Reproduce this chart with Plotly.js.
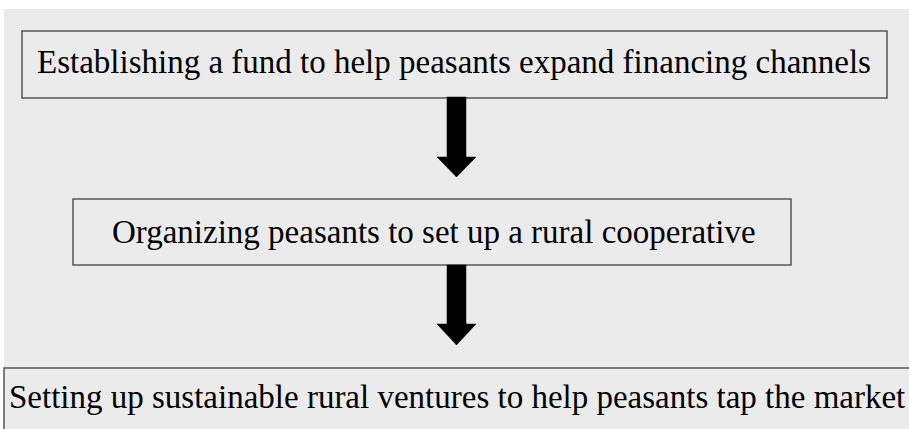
<!DOCTYPE html>
<html>
<head>
<meta charset="utf-8">
<script src="https://cdn.plot.ly/plotly-3.0.1.min.js"></script>
<style>html,body{margin:0;padding:0;background:#fff;}#chart{width:909px;height:429px;}</style>
</head>
<body>
<div id="chart"></div>
<script>
// Flow steps (content)
const steps = [
  "Establishing a fund to help peasants expand financing channels",
  "Organizing peasants to set up a rural cooperative",
  "Setting up sustainable rural ventures to help peasants tap the market"
];

// Layout geometry (pixel space of the figure)
const boxLeft   = [22, 73, 4];
const boxRight  = [887, 791, 930];
const boxTop    = [31, 199, 368];
const boxBottom = [98, 265, 460];
const textX     = [454, 434, 457];
const textY     = [62, 232, 397];

const shapes = [];
// gray background
shapes.push({type:'rect', xref:'x', yref:'y', x0:4, x1:909, y0:9, y1:429,
  fillcolor:'#ebebeb', line:{width:0}, layer:'below'});
// boxes
for (let i = 0; i < steps.length; i++) {
  shapes.push({type:'rect', xref:'x', yref:'y', x0:boxLeft[i], x1:boxRight[i],
    y0:boxTop[i], y1:boxBottom[i], line:{color:'#555555', width:1.5}, fillcolor:'rgba(0,0,0,0)'});
}
// arrows between boxes
function arrow(cx, y0, yHead, yTip) {
  const sw = 9.5, hw = 19.5;
  return 'M'+(cx-sw)+','+y0+' L'+(cx+sw)+','+y0+' L'+(cx+sw)+','+yHead+' L'+(cx+hw)+','+yHead+
         ' L'+cx+','+yTip+' L'+(cx-hw)+','+yHead+' L'+(cx-sw)+','+yHead+' Z';
}
shapes.push({type:'path', xref:'x', yref:'y', path:arrow(456.5, 97, 157, 177), fillcolor:'#000', line:{color:'#000', width:0.5}});
shapes.push({type:'path', xref:'x', yref:'y', path:arrow(456.5, 265, 324, 345), fillcolor:'#000', line:{color:'#000', width:0.5}});

const annotations = steps.map((s, i) => ({
  x: textX[i], y: textY[i], xref:'x', yref:'y', text: s, showarrow:false,
  xanchor:'center', yanchor:'middle',
  font:{family:'Liberation Serif, Times New Roman, serif', size:33, color:'#000'}
}));

const layout = {
  width:909, height:429,
  margin:{l:0, r:0, t:0, b:0},
  paper_bgcolor:'#ffffff', plot_bgcolor:'#ffffff',
  xaxis:{range:[0,909], visible:false, fixedrange:true},
  yaxis:{range:[429,0], visible:false, fixedrange:true},
  shapes: shapes,
  annotations: annotations,
  showlegend:false
};

Plotly.newPlot('chart', [{x:[], y:[], type:'scatter'}], layout, {displayModeBar:false, staticPlot:true});
</script>
</body>
</html>
